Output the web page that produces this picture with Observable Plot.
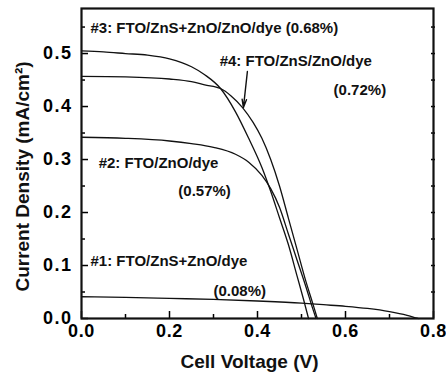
<!DOCTYPE html>
<html>
<head>
<meta charset="utf-8">
<script src="https://cdn.jsdelivr.net/npm/d3@7"></script>
<script src="https://cdn.jsdelivr.net/npm/@observablehq/plot@0.6"></script>
<style>
  body { margin: 0; background: #fff; }
  svg { font-family: "Liberation Sans", Arial, sans-serif; }
  g[aria-label="x-axis tick label"] text { letter-spacing: 0.6px; }
  g[aria-label="y-axis tick label"] text { letter-spacing: 1.5px; }
  g[aria-label="labels"] text { letter-spacing: 0.4px; }
  g[aria-label="percent"] text { letter-spacing: 1.6px; }
  g[aria-label="xtitle"] text { letter-spacing: 1.1px; }
  g[aria-label="ytitle"] text { letter-spacing: 0.9px; }
</style>
</head>
<body>
<div id="chart"></div>
<script>
// Axis ticks
const xTicks = [0, 0.2, 0.4, 0.6, 0.8];
const xMinor = [0.1, 0.3, 0.5, 0.7];
const yTicks = [0, 0.1, 0.2, 0.3, 0.4, 0.5];
const yMinor = [0.05, 0.15, 0.25, 0.35, 0.45, 0.55];
const yRight = [0.05, 0.1, 0.15, 0.2, 0.25, 0.3, 0.35, 0.4, 0.45, 0.5, 0.55];

// #1: FTO/ZnS+ZnO/dye (0.08%)
const V1 = [0, 0.1, 0.2, 0.3, 0.4, 0.5, 0.55, 0.6, 0.65, 0.7, 0.74, 0.765];
const J1 = [0.041, 0.040, 0.038, 0.036, 0.033, 0.029, 0.026, 0.023, 0.019, 0.013, 0.006, 0];
// #2: FTO/ZnO/dye (0.57%)
const V2 = [0, 0.1, 0.2, 0.25, 0.3, 0.35, 0.38, 0.41, 0.43, 0.45, 0.47, 0.49, 0.51, 0.525, 0.533];
const J2 = [0.342, 0.340, 0.335, 0.330, 0.323, 0.310, 0.295, 0.270, 0.245, 0.210, 0.160, 0.110, 0.060, 0.020, 0];
// #3: FTO/ZnS+ZnO/ZnO/dye (0.68%)
const V3 = [0, 0.05, 0.1, 0.15, 0.2, 0.25, 0.28, 0.316, 0.35, 0.38, 0.41, 0.43, 0.45, 0.47, 0.49, 0.505, 0.516];
const J3 = [0.505, 0.503, 0.500, 0.497, 0.490, 0.475, 0.460, 0.434, 0.390, 0.340, 0.285, 0.240, 0.190, 0.140, 0.080, 0.035, 0];
// #4: FTO/ZnS/ZnO/dye (0.72%)
const V4 = [0, 0.1, 0.2, 0.25, 0.28, 0.316, 0.34, 0.366, 0.39, 0.41, 0.43, 0.45, 0.47, 0.49, 0.51, 0.525, 0.536];
const J4 = [0.457, 0.456, 0.452, 0.447, 0.441, 0.434, 0.420, 0.398, 0.370, 0.340, 0.300, 0.250, 0.190, 0.130, 0.070, 0.030, 0];

// Annotations
const labelText = ["#3: FTO/ZnS+ZnO/ZnO/dye (0.68%)", "#4: FTO/ZnS/ZnO/dye", "#2: FTO/ZnO/dye", "#1: FTO/ZnS+ZnO/dye"];
const labelV = [0.0205, 0.314, 0.039, 0.0205];
const labelJ = [0.547, 0.485, 0.294, 0.1075];
const pctText = ["(0.72%)", "(0.57%)", "(0.08%)"];
const pctV = [0.573, 0.220, 0.300];
const pctJ = [0.430, 0.240, 0.051];
const arrowFrom = [0.377, 0.466];
const arrowTo = [0.368, 0.398];

const series = [[V1, J1], [V2, J2], [V3, J3], [V4, J4]].map(([V, J]) => V.map((v, i) => ({V: v, J: J[i]})));
const labels = labelText.map((t, i) => ({t, V: labelV[i], J: labelJ[i]}));
const pcts = pctText.map((t, i) => ({t, V: pctV[i], J: pctJ[i]}));

const W = 446, H = 377;
const mL = 81, mR = 13, mT = 8, mB = 59;
const fw = W - mL - mR, fh = H - mT - mB;

const chart = Plot.plot({
  width: W, height: H,
  marginLeft: mL, marginRight: mR, marginTop: mT, marginBottom: mB,
  x: {domain: [0, 0.8]},
  y: {domain: [0, 0.585]},
  style: {fontFamily: "Liberation Sans, Arial, sans-serif", fontWeight: "bold", color: "#000", background: "#fff"},
  marks: [
    Plot.axisX({ticks: xTicks, tickSize: 0, tickPadding: 6, tickFormat: d3.format(".1f"), fontSize: 18, fontWeight: "bold", label: null}),
    Plot.axisY({ticks: yTicks, tickSize: 0, tickPadding: 9, tickFormat: d3.format(".1f"), fontSize: 18, fontWeight: "bold", label: null}),
    Plot.ruleX(xTicks, {x: d => d, insetTop: fh - 7, strokeWidth: 1.5}),
    Plot.ruleX(xMinor, {x: d => d, insetTop: fh - 4, strokeWidth: 1.5}),
    Plot.ruleY(yTicks, {y: d => d, insetRight: fw - 7, strokeWidth: 1.5}),
    Plot.ruleY(yMinor, {y: d => d, insetRight: fw - 4, strokeWidth: 1.5}),
    Plot.ruleY(yRight, {y: d => d, insetLeft: fw - 2, insetRight: -2, strokeWidth: 1.5}),
    ...series.map(s => Plot.line(s, {x: "V", y: "J", curve: "monotone-x", stroke: "#111", strokeWidth: 1.3})),
    Plot.frame({stroke: "#111", strokeWidth: 2.2}),
    Plot.text(labels, {x: "V", y: "J", text: "t", textAnchor: "start", lineAnchor: "middle", fontSize: 15, fontWeight: "bold", fill: "#111", ariaLabel: "labels"}),
    Plot.text(pcts, {x: "V", y: "J", text: "t", textAnchor: "start", lineAnchor: "middle", fontSize: 15, fontWeight: "bold", fill: "#111", ariaLabel: "percent"}),
    Plot.arrow([{x1: arrowFrom[0], y1: arrowFrom[1], x2: arrowTo[0], y2: arrowTo[1]}], {x1: "x1", y1: "y1", x2: "x2", y2: "y2", headLength: 9, headAngle: 30, strokeWidth: 1.4, stroke: "#111"}),
    Plot.text(["Cell Voltage (V)"], {frameAnchor: "bottom", textAnchor: "middle", dx: -8, dy: 43, lineAnchor: "middle", fontSize: 19, fontWeight: "bold", fill: "#111", ariaLabel: "xtitle"}),
    Plot.text(["Current Density (mA/cm²)"], {frameAnchor: "left", textAnchor: "middle", dx: -59, dy: 13, rotate: -90, lineAnchor: "middle", fontSize: 19, fontWeight: "bold", fill: "#111", ariaLabel: "ytitle"})
  ]
});
document.getElementById("chart").appendChild(chart);
</script>
</body>
</html>
